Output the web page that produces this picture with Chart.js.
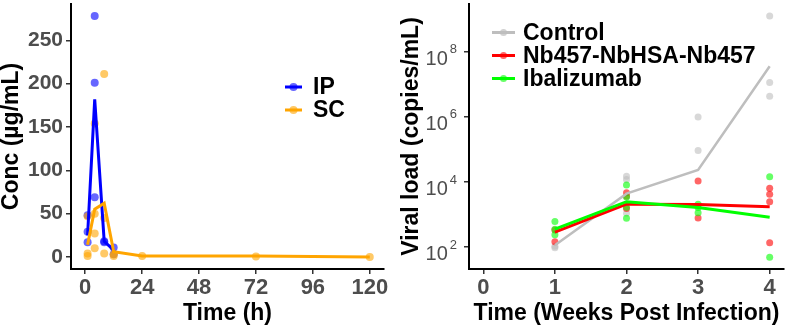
<!DOCTYPE html>
<html><head><meta charset="utf-8">
<script src="https://cdn.jsdelivr.net/npm/chart.js@4/dist/chart.umd.min.js"></script>
<style>
html,body{margin:0;padding:0;background:#fff;width:788px;height:327px;overflow:hidden}
.wrap{position:absolute;top:0}
</style></head><body>
<div class="wrap" style="left:0;width:390px;height:327px"><canvas id="c1" width="390" height="327"></canvas></div>
<div class="wrap" style="left:390px;width:398px;height:327px"><canvas id="c2" width="398" height="327"></canvas></div>
<script>
// ---------- Left panel data (PK) ----------
const ipLineTimes = [1, 4, 8, 12];
const ipLineConc = [25, 182, 18, 8];
const scLineTimes = [1, 4, 8, 12, 24, 72, 120];
const scLineConc = [14, 55, 62, 6, 1, 1, 0];
const ipPointTimes = [1, 1, 1, 4, 4, 4, 8, 8, 12, 12];
const ipPointConc = [48, 29, 17, 278, 201, 69, 18, 17, 11, 3];
const scPointTimes = [1, 1, 1, 4, 4, 4, 4, 8, 8, 8, 12, 12, 24, 72, 120];
const scPointConc = [47, 4, 1, 154, 50, 27, 10, 211, 45, 4, 3, 1, 1, 0.5, 0];
const pkXTicks = [0, 24, 48, 72, 96, 120];
const pkYTicks = [0, 50, 100, 150, 200, 250];

// ---------- Right panel data (viral load) ----------
const weeks = [1, 2, 3, 4];
const controlMean = [115, 4400, 23700, 36000000];
const nbMean = [290, 2100, 2050, 1750];
const ibaMean = [360, 2500, 1650, 830];
const controlPtWeeks = [1, 1, 2, 2, 2, 3, 3, 4, 4, 4];
const controlPtVals = [107, 96, 15000, 12000, 1100, 1000000, 94000, 1260000000, 11500000, 4300000];
const nbPtWeeks = [1, 1, 2, 2, 2, 3, 3, 4, 4, 4, 4];
const nbPtVals = [340, 146, 4700, 3700, 1550, 10700, 790, 6500, 4200, 2500, 136];
const ibaPtWeeks = [1, 1, 1, 2, 2, 2, 2, 3, 3, 3, 4, 4];
const ibaPtVals = [610, 355, 240, 8100, 3500, 1700, 770, 2100, 1650, 1150, 14500, 49];
const vlXTicks = [0, 1, 2, 3, 4];
const vlYExps = [2, 4, 6, 8];

const FONT = "'Liberation Sans', Arial, sans-serif";
const zip = (xs, ys) => xs.map((x, i) => ({x: x, y: ys[i]}));

const customLegend = {
  id: 'customLegend',
  afterDraw(chart, args, o) {
    const ctx = chart.ctx;
    const items = chart.data.datasets.filter(d => d.legendOrder !== undefined)
      .sort((a, b) => a.legendOrder - b.legendOrder);
    items.forEach((d, i) => {
      const y = o.y + i * o.gap;
      ctx.save();
      ctx.strokeStyle = d.borderColor; ctx.lineWidth = o.lw;
      ctx.beginPath(); ctx.moveTo(o.x, y); ctx.lineTo(o.x + o.len, y); ctx.stroke();
      ctx.fillStyle = d.dotColor;
      ctx.beginPath(); ctx.arc(o.x + o.len / 2, y, o.r, 0, Math.PI * 2); ctx.fill();
      ctx.fillStyle = '#000'; ctx.font = o.font; ctx.textBaseline = 'middle'; ctx.textAlign = 'left';
      ctx.fillText(d.label, o.x + o.len + o.textGap, y + o.textDy);
      ctx.restore();
    });
  }
};

const supTicks = {
  id: 'supTicks',
  afterDraw(chart, args, o) {
    if (!o.enabled) return;
    const s = chart.scales.y, ctx = chart.ctx;
    vlYExps.forEach(e => {
      const py = s.getPixelForValue(Math.pow(10, e));
      ctx.save();
      ctx.fillStyle = o.color; ctx.textBaseline = 'alphabetic'; ctx.textAlign = 'right';
      ctx.font = o.expFont;
      const t = String(e);
      ctx.fillText(t, o.right, py + o.expDy);
      const ew = ctx.measureText(t).width;
      ctx.font = o.baseFont;
      ctx.fillText('10', o.right - ew - o.gap, py + o.baseDy);
      ctx.restore();
    });
  }
};

const axisCommon = {
  border: {display: true, color: '#000', width: 2},
  grid: {drawOnChartArea: false, drawTicks: true, tickLength: 5, color: '#333', lineWidth: 1.5}
};

// ---------- Left chart ----------
new Chart(document.getElementById('c1'), {
  type: 'scatter',
  data: {datasets: [
    {label: 'SC', data: zip(scLineTimes, scLineConc), showLine: true, borderColor: '#FFA500', borderWidth: 3,
     pointRadius: 0, tension: 0, order: 0, legendOrder: 1, dotColor: 'rgba(255,165,0,0.6)'},
    {label: 'IP', data: zip(ipLineTimes, ipLineConc), showLine: true, borderColor: '#0000FF', borderWidth: 3,
     pointRadius: 0, tension: 0, order: 1, legendOrder: 0, dotColor: 'rgba(0,0,255,0.6)'},
    {label: 'SC pts', data: zip(scPointTimes, scPointConc), pointRadius: 4, borderWidth: 0,
     backgroundColor: 'rgba(255,165,0,0.6)', order: 2},
    {label: 'IP pts', data: zip(ipPointTimes, ipPointConc), pointRadius: 4, borderWidth: 0,
     backgroundColor: 'rgba(0,0,255,0.6)', order: 3}
  ]},
  options: {
    responsive: false, animation: false, devicePixelRatio: 1,
    layout: {padding: {left: 0, right: 6, top: 0, bottom: 0}},
    plugins: {
      legend: {display: false}, tooltip: {enabled: false},
      customLegend: {x: 285, len: 17, y: 87, gap: 23, lw: 3, r: 4, textGap: 11, textDy: 1,
                     font: "bold 23px " + FONT},
      supTicks: {enabled: false}
    },
    scales: {
      x: Object.assign({}, axisCommon, {
        type: 'linear', min: -6, max: 126,
        afterBuildTicks: s => { s.ticks = pkXTicks.map(v => ({value: v})); },
        afterFit: s => { s.height = 58; s.paddingLeft = 0; s.paddingRight = 0; },
        ticks: {font: {family: FONT, size: 22, weight: 'bold'}, color: '#4D4D4D', padding: 1, maxRotation: 0},
        title: {display: true, text: 'Time (h)', color: '#000', font: {family: FONT, size: 23, weight: 'bold', lineHeight: 1},
                padding: {top: 0, bottom: 2}}
      }),
      y: Object.assign({}, axisCommon, {
        type: 'linear', min: -13.9, max: 291.9,
        afterBuildTicks: s => { s.ticks = pkYTicks.map(v => ({value: v})); },
        afterFit: s => { s.width = 71; s.paddingTop = 0; s.paddingBottom = 0; },
        ticks: {font: {family: FONT, size: 21, weight: 'bold'}, color: '#4D4D4D', padding: 3},
        title: {display: true, text: 'Conc (µg/mL)', color: '#000', font: {family: FONT, size: 23, weight: 'bold', lineHeight: 1},
                padding: {top: 0, bottom: 0}}
      })
    }
  },
  plugins: [customLegend, supTicks]
});

// ---------- Right chart ----------
new Chart(document.getElementById('c2'), {
  type: 'scatter',
  data: {datasets: [
    {label: 'Ibalizumab', data: zip(weeks, ibaMean), showLine: true, borderColor: '#00FF00', borderWidth: 3,
     pointRadius: 0, tension: 0, order: 0, legendOrder: 2, dotColor: 'rgba(0,255,0,0.6)'},
    {label: 'Nb457-NbHSA-Nb457', data: zip(weeks, nbMean), showLine: true, borderColor: '#FF0000', borderWidth: 3,
     pointRadius: 0, tension: 0, order: 1, legendOrder: 1, dotColor: 'rgba(255,0,0,0.6)'},
    {label: 'Control', data: zip(weeks, controlMean), showLine: true, borderColor: '#BEBEBE', borderWidth: 2.5,
     pointRadius: 0, tension: 0, order: 2, legendOrder: 0, dotColor: 'rgba(190,190,190,0.7)'},
    {label: 'Iba pts', data: zip(ibaPtWeeks, ibaPtVals), pointRadius: 3.5, borderWidth: 0,
     backgroundColor: 'rgba(0,255,0,0.6)', order: 3},
    {label: 'Nb pts', data: zip(nbPtWeeks, nbPtVals), pointRadius: 3.5, borderWidth: 0,
     backgroundColor: 'rgba(255,0,0,0.6)', order: 4},
    {label: 'Control pts', data: zip(controlPtWeeks, controlPtVals), pointRadius: 3.5, borderWidth: 0,
     backgroundColor: 'rgba(190,190,190,0.6)', order: 5}
  ]},
  options: {
    responsive: false, animation: false, devicePixelRatio: 1,
    layout: {padding: {left: 0, right: 1, top: 0, bottom: 0}},
    plugins: {
      legend: {display: false}, tooltip: {enabled: false},
      customLegend: {x: 102, len: 23, y: 32.5, gap: 23, lw: 3, r: 3.5, textGap: 8, textDy: 1,
                     font: "bold 23px " + FONT},
      supTicks: {enabled: true, right: 67, gap: 2, expDy: 1.5, baseDy: 13, color: '#4D4D4D',
                 expFont: "13px " + FONT, baseFont: "20px " + FONT}
    },
    scales: {
      x: Object.assign({}, axisCommon, {
        type: 'linear', min: -0.2, max: 4.2,
        afterBuildTicks: s => { s.ticks = vlXTicks.map(v => ({value: v})); },
        afterFit: s => { s.height = 58; s.paddingLeft = 0; s.paddingRight = 0; },
        ticks: {font: {family: FONT, size: 22, weight: 'bold'}, color: '#4D4D4D', padding: 1, maxRotation: 0},
        title: {display: true, text: 'Time (Weeks Post Infection)', color: '#000',
                font: {family: FONT, size: 23, weight: 'bold', lineHeight: 1}, padding: {top: 0, bottom: 2}}
      }),
      y: Object.assign({}, axisCommon, {
        type: 'logarithmic', min: Math.pow(10, 1.33), max: Math.pow(10, 9.47),
        afterBuildTicks: s => { s.ticks = vlYExps.map(e => ({value: Math.pow(10, e)})); },
        afterFit: s => { s.width = 79; s.paddingTop = 0; s.paddingBottom = 0; },
        ticks: {callback: () => '', font: {family: FONT, size: 12}},
        title: {display: true, text: 'Viral load (copies/mL)', color: '#000',
                font: {family: FONT, size: 23, weight: 'bold', lineHeight: 1}, padding: {top: 10, bottom: 0}}
      })
    }
  },
  plugins: [customLegend, supTicks]
});
</script>
</body></html>
